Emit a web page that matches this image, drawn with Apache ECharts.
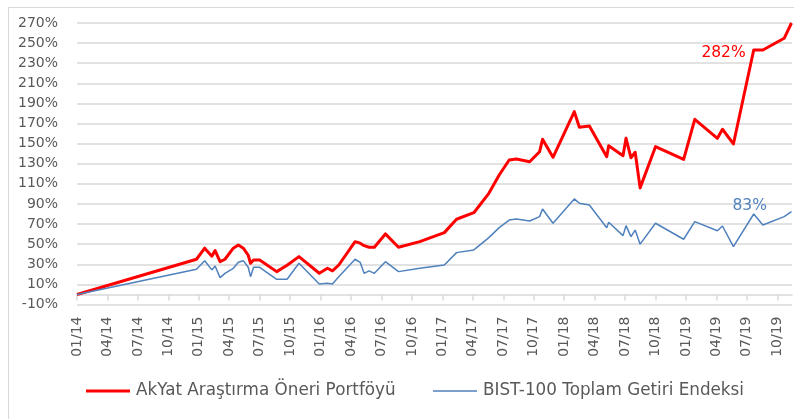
<!DOCTYPE html>
<html>
<head>
<meta charset="utf-8">
<script src="https://cdn.jsdelivr.net/npm/echarts@6/dist/echarts.min.js"></script>
<style>html,body{margin:0;padding:0;background:#fff;}#c{width:794px;height:419px;}</style>
</head>
<body>
<div id="c"></div>
<script>
// Observation dates (x positions)
const dates = [
  '2014-01-01','2014-12-25','2015-01-19','2015-02-09','2015-02-18','2015-03-04','2015-03-19',
  '2015-04-13','2015-04-28','2015-05-13','2015-05-28','2015-06-04','2015-06-13','2015-07-01',
  '2015-08-22','2015-09-22','2015-10-28','2015-12-28','2016-01-22','2016-02-06','2016-02-24',
  '2016-04-13','2016-04-28','2016-05-10','2016-05-25','2016-06-10','2016-07-13','2016-08-22',
  '2016-10-25','2017-01-07','2017-02-12','2017-04-04','2017-05-19','2017-06-19','2017-07-19',
  '2017-08-10','2017-09-19','2017-10-19','2017-10-28','2017-11-28','2018-02-01','2018-02-15',
  '2018-03-16','2018-05-07','2018-05-13','2018-06-25','2018-07-04','2018-07-19','2018-08-01',
  '2018-08-16','2018-10-01','2018-12-25','2019-01-28','2019-04-04','2019-04-19','2019-05-22',
  '2019-07-22','2019-08-19','2019-10-22','2019-11-13'
];
// AkYat Araştırma Öneri Portföyü (% cumulative)
const akyat = [
  0, 35, 46, 38, 43.6, 32.6, 35,
  46, 49.2, 46, 39, 31, 34.3, 34.3,
  22.7, 29, 37.6, 21.1, 26.1, 23.5, 29.3,
  52.5, 51, 48.5, 47, 46.9, 60.2, 46.9,
  52.5, 61.5, 74.8, 81.3, 100.6, 118.8, 133.7,
  134.7, 132, 142, 154.3, 136.4, 181.8, 166.3,
  167.6, 137, 148, 138, 155.3, 136, 141.4,
  106, 147, 134.4, 174.2, 155.3, 164.3, 149.7,
  243.1, 243.1, 254.8, 270
];
// BIST-100 Toplam Getiri Endeksi (% cumulative)
const bist = [
  0, 25, 33.6, 24.4, 28.3, 16.7, 21,
  26, 32, 33.6, 27, 17.7, 27, 27,
  15.1, 15.1, 31, 10.4, 11.1, 10.4, 17.7,
  35, 32, 21, 23.4, 21, 32.6, 22.7,
  26, 29.3, 41.6, 44.3, 56.5, 66.5, 74,
  75, 73, 77.4, 85, 70.8, 95, 90.7,
  89, 66.4, 71.8, 58.5, 68.4, 57.5, 64,
  50, 70.8, 54.9, 72.4, 63.4, 68.1, 47.5,
  80, 69.1, 77.4, 82.3
];
const seriesNames = ['AkYat Araştırma Öneri Portföyü', 'BIST-100 Toplam Getiri Endeksi'];
const akyatNote = { index: 56, text: '282%' };
const bistNote = { index: 56, text: '83%' };

const FONT = 'DejaVu Sans';
const LABEL_COLOR = '#595959';
const RED = '#ff0000';
const BLUE = '#4f81bd';

function toMonth(s) {
  const [y, m, d] = s.split('-').map(Number);
  const dim = new Date(y, m, 0).getDate();
  return (y - 2014) * 12 + (m - 1) + (d - 1) / dim;
}
function monthLabel(v) {
  const r = Math.round(v);
  if (Math.abs(v - r) > 1e-6 || r % 3 !== 0) return '';
  const mm = (r % 12) + 1, yy = 14 + Math.floor(r / 12);
  return String(mm).padStart(2, '0') + '/' + String(yy).padStart(2, '0');
}
function points(values) {
  return dates.map((d, i) => [toMonth(d), values[i]]);
}
function note(values, n, labelStyle) {
  return {
    symbol: 'circle', symbolSize: 0, silent: true,
    data: [{
      coord: [toMonth(dates[n.index]), values[n.index]],
      label: Object.assign({ show: true, formatter: n.text, fontFamily: FONT, fontSize: 15.5 }, labelStyle)
    }]
  };
}
function legendFor(name, color, left, h) {
  return {
    left: left, top: 381, padding: 0,
    itemWidth: 44, itemHeight: h, itemGap: 0,
    icon: 'rect',
    itemStyle: { color: color, borderWidth: 0 },
    textStyle: { fontFamily: FONT, fontSize: 16.8, color: LABEL_COLOR, lineHeight: 20, padding: [0, 0, 0, 1] },
    data: [name]
  };
}

const chart = echarts.init(document.getElementById('c'), null, { renderer: 'canvas' });
chart.setOption({
  animation: false,
  backgroundColor: '#ffffff',
  graphic: [{
    type: 'rect', left: 6, top: 5, z: -1,
    shape: { width: 820, height: 440 },
    style: { fill: 'none', stroke: '#d9d9d9', lineWidth: 1 }
  }],
  grid: { left: 77, right: 2, top: 23, bottom: 114.5, containLabel: false },
  legend: [
    legendFor(seriesNames[0], RED, 86, 3),
    legendFor(seriesNames[1], BLUE, 433, 1.5)
  ],
  xAxis: {
    type: 'value', min: 0, max: 70.45, interval: 3,
    axisLine: { onZero: true, lineStyle: { color: '#d9d9d9', width: 1.5 } },
    axisTick: { show: true, length: 6, lineStyle: { color: '#d9d9d9', width: 1.5 } },
    splitLine: { show: false },
    axisLabel: {
      rotate: 90, margin: 12, showMaxLabel: false,
      fontFamily: FONT, fontSize: 14, color: LABEL_COLOR,
      formatter: monthLabel
    }
  },
  yAxis: {
    type: 'value', min: -10, max: 270, interval: 20,
    axisLine: { show: false }, axisTick: { show: false },
    splitLine: { lineStyle: { color: '#d9d9d9', width: 1.5 } },
    axisLabel: {
      margin: 19, fontFamily: FONT, fontSize: 14, color: LABEL_COLOR,
      formatter: v => v + '%'
    }
  },
  series: [
    {
      name: seriesNames[0], type: 'line', symbol: 'none', showSymbol: false,
      lineStyle: { color: RED, width: 3, join: 'round' },
      itemStyle: { color: RED },
      data: points(akyat),
      markPoint: note(akyat, akyatNote, { position: 'left', distance: 8, offset: [0, 3], color: RED })
    },
    {
      name: seriesNames[1], type: 'line', symbol: 'none', showSymbol: false,
      lineStyle: { color: BLUE, width: 1.5 },
      itemStyle: { color: BLUE },
      data: points(bist),
      markPoint: note(bist, bistNote, { position: 'top', distance: 3, offset: [-4, 3], color: BLUE })
    }
  ]
});
</script>
</body>
</html>
